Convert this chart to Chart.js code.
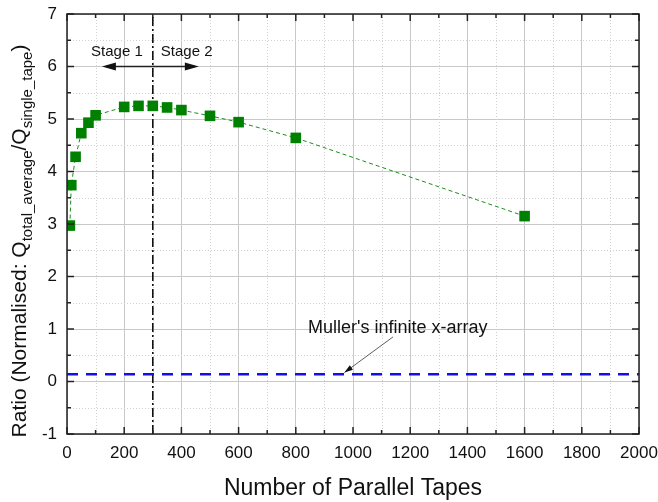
<!DOCTYPE html>
<html>
<head>
<meta charset="utf-8">
<script src="https://cdn.jsdelivr.net/npm/chart.js@4"></script>
<style>
  html, body { margin: 0; padding: 0; background: #fff; }
  #wrap { width: 658px; height: 502px; }
</style>
</head>
<body>
<div id="wrap"><canvas id="grafico"></canvas></div>
<script>
// data
const tapes = [10, 15, 30, 50, 75, 100, 200, 250, 300, 350, 400, 500, 600, 800, 1600];
const ratio = [2.97, 3.74, 4.28, 4.73, 4.93, 5.07, 5.23, 5.25, 5.25, 5.22, 5.17, 5.06, 4.94, 4.64, 3.15];
const mullerX = [0, 2000];
const mullerY = [0.14, 0.14];
const stageX = [300, 300];
const stageY = [-1, 7];
const xTicks = [0, 200, 400, 600, 800, 1000, 1200, 1400, 1600, 1800, 2000];
const yTicks = [-1, 0, 1, 2, 3, 4, 5, 6, 7];

const FONT = 'Liberation Sans, Arial, sans-serif';

const pts = (xs, ys) => xs.map((x, i) => ({x: x, y: ys[i]}));

// minor grid, inward ticks, box, annotations, y title with subscripts
const extras = {
    id: 'extras',
    beforeDatasetsDraw(chart) {
        const {ctx, chartArea: a, scales: {x, y}} = chart;
        ctx.save();
        ctx.strokeStyle = '#d0d0d0';
        ctx.lineWidth = 1;
        ctx.setLineDash([1, 2]);
        for (let v = 100; v < 2000; v += 200) {
            const px = Math.round(x.getPixelForValue(v)) + 0.5;
            ctx.beginPath(); ctx.moveTo(px, a.top); ctx.lineTo(px, a.bottom); ctx.stroke();
        }
        for (let v = -0.5; v < 7; v += 1) {
            const py = Math.round(y.getPixelForValue(v)) + 0.5;
            ctx.beginPath(); ctx.moveTo(a.left, py); ctx.lineTo(a.right, py); ctx.stroke();
        }
        ctx.restore();
    },
    afterDraw(chart) {
        const {ctx, chartArea: a, scales: {x, y}} = chart;
        ctx.save();
        // ticks pointing inwards, all four sides
        ctx.strokeStyle = '#222';
        ctx.lineWidth = 1.5;
        for (let v = 0; v <= 2000; v += 100) {
            const px = x.getPixelForValue(v);
            const len = v % 200 === 0 ? 7 : 4;
            ctx.beginPath();
            ctx.moveTo(px, a.bottom); ctx.lineTo(px, a.bottom - len);
            ctx.moveTo(px, a.top); ctx.lineTo(px, a.top + len);
            ctx.stroke();
        }
        for (let v = -1; v <= 7; v += 0.5) {
            const py = y.getPixelForValue(v);
            const len = Number.isInteger(v) ? 7 : 4;
            ctx.beginPath();
            ctx.moveTo(a.left, py); ctx.lineTo(a.left + len, py);
            ctx.moveTo(a.right, py); ctx.lineTo(a.right - len, py);
            ctx.stroke();
        }
        ctx.lineWidth = 1.5;
        ctx.strokeRect(a.left, a.top, a.right - a.left, a.bottom - a.top);

        // stage labels + double arrow
        ctx.fillStyle = '#111';
        ctx.font = '15px ' + FONT;
        ctx.textBaseline = 'middle';
        const sx = x.getPixelForValue(300);
        const ty = y.getPixelForValue(6.28);
        ctx.textAlign = 'right';
        ctx.fillText('Stage 1', sx - 10, ty);
        ctx.textAlign = 'left';
        ctx.fillText('Stage 2', sx + 8, ty);
        const ay = y.getPixelForValue(6.0);
        const ax1 = x.getPixelForValue(122), ax2 = x.getPixelForValue(461);
        ctx.lineWidth = 1.5;
        ctx.beginPath(); ctx.moveTo(ax1 + 4, ay); ctx.lineTo(ax2 - 4, ay); ctx.stroke();
        ctx.beginPath();
        ctx.moveTo(ax1, ay); ctx.lineTo(ax1 + 14, ay - 4); ctx.lineTo(ax1 + 14, ay + 4); ctx.closePath();
        ctx.moveTo(ax2, ay); ctx.lineTo(ax2 - 14, ay - 4); ctx.lineTo(ax2 - 14, ay + 4); ctx.closePath();
        ctx.fill();

        // Muller annotation
        ctx.font = '18px ' + FONT;
        ctx.textAlign = 'left';
        ctx.fillText("Muller's infinite x-array", x.getPixelForValue(843), y.getPixelForValue(1.02));
        const p1x = x.getPixelForValue(1140), p1y = y.getPixelForValue(0.85);
        const p2x = x.getPixelForValue(970), p2y = y.getPixelForValue(0.17);
        ctx.strokeStyle = '#333';
        ctx.lineWidth = 0.8;
        ctx.beginPath(); ctx.moveTo(p1x, p1y); ctx.lineTo(p2x, p2y); ctx.stroke();
        const ang = Math.atan2(p2y - p1y, p2x - p1x);
        ctx.beginPath();
        ctx.moveTo(p2x, p2y);
        ctx.lineTo(p2x - 9 * Math.cos(ang - 0.3), p2y - 9 * Math.sin(ang - 0.3));
        ctx.lineTo(p2x - 9 * Math.cos(ang + 0.3), p2y - 9 * Math.sin(ang + 0.3));
        ctx.closePath();
        ctx.fill();

        // y axis title with subscripts
        const parts = [
            ['Ratio (Normalised: Q', 21, 0],
            ['total_average', 15, 6],
            ['/Q', 21, 0],
            ['single_tape', 15, 6],
            [')', 21, 0]
        ];
        let total = 0;
        parts.forEach(p => { ctx.font = p[1] + 'px ' + FONT; total += ctx.measureText(p[0]).width; });
        ctx.translate(19, 241);
        ctx.rotate(-Math.PI / 2);
        ctx.textAlign = 'left';
        ctx.textBaseline = 'alphabetic';
        ctx.fillStyle = '#111';
        let cx = -total / 2;
        parts.forEach(p => {
            ctx.font = p[1] + 'px ' + FONT;
            ctx.fillText(p[0], cx, 7 + p[2]);
            cx += ctx.measureText(p[0]).width;
        });
        ctx.restore();
    }
};

new Chart(document.getElementById('grafico'), {
    type: 'scatter',
    data: {
        datasets: [{
            label: 'Ratio',
            data: pts(tapes, ratio),
            showLine: true,
            borderColor: '#1e8a1e',
            borderWidth: 1,
            borderDash: [4, 3],
            backgroundColor: '#008000',
            pointStyle: 'rect',
            pointRadius: 7.5,
            pointBorderWidth: 0,
            order: 1
        }, {
            label: "Muller's infinite x-array",
            data: pts(mullerX, mullerY),
            showLine: true,
            borderColor: '#1010ee',
            borderWidth: 2.5,
            borderDash: [11, 8],
            pointRadius: 0,
            order: 2
        }, {
            label: 'Stage boundary',
            data: pts(stageX, stageY),
            showLine: true,
            borderColor: '#111',
            borderWidth: 1.6,
            borderDash: [9, 3, 2, 3],
            pointRadius: 0,
            order: 3
        }]
    },
    options: {
        responsive: true,
        maintainAspectRatio: false,
        animation: false,
        layout: { padding: { top: 14, right: 19, left: 0, bottom: 0 } },
        plugins: {
            legend: { display: false },
            tooltip: { enabled: false }
        },
        scales: {
            x: {
                type: 'linear',
                min: 0, max: 2000,
                afterBuildTicks: s => { s.ticks = xTicks.map(v => ({value: v})); },
                afterFit: s => { s.height = 68; s.paddingLeft = 0; s.paddingRight = 0; },
                grid: { color: '#c8c8c8', lineWidth: 1, drawTicks: false },
                border: { display: false },
                ticks: {
                    font: { family: FONT, size: 17 }, color: '#111', padding: 9, maxRotation: 0,
                    callback: v => String(v)
                },
                title: {
                    display: true,
                    text: 'Number of Parallel Tapes',
                    font: { family: FONT, size: 23 },
                    color: '#111',
                    padding: { top: 4, bottom: 0 }
                }
            },
            y: {
                type: 'linear',
                min: -1, max: 7,
                afterBuildTicks: s => { s.ticks = yTicks.map(v => ({value: v})); },
                afterFit: s => { s.width = 67; s.paddingTop = 0; s.paddingBottom = 0; },
                grid: { color: '#c8c8c8', lineWidth: 1, drawTicks: false },
                border: { display: false },
                ticks: { font: { family: FONT, size: 17 }, color: '#111', padding: 10, callback: v => String(v) }
            }
        }
    },
    plugins: [extras]
});
</script>
</body>
</html>
